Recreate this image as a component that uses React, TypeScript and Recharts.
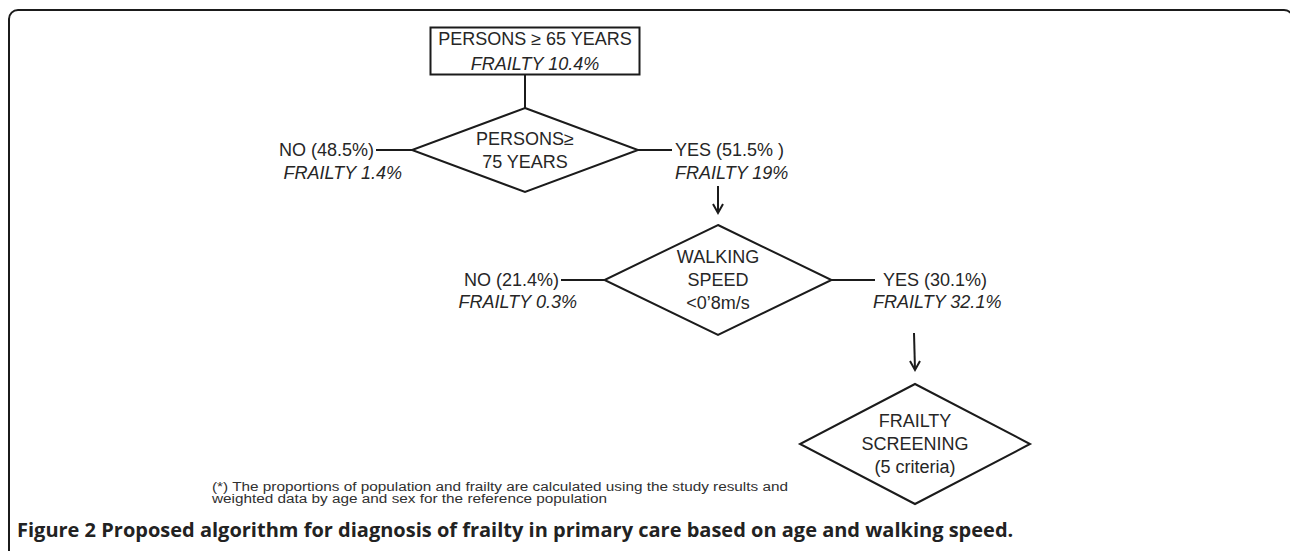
import React from 'react';
import { ScatterChart, Scatter, XAxis, YAxis, ReferenceLine } from 'recharts';

const W = 1290;
const H = 551;

// flowchart nodes (layout units = page pixels)
const nodeKinds = ['box', 'diamond', 'diamond', 'diamond'];
const nodeLines = [
  ['PERSONS ≥ 65 YEARS', 'FRAILTY 10.4%'],
  ['PERSONS≥', '75 YEARS'],
  ['WALKING', 'SPEED', '<0’8m/s'],
  ['FRAILTY', 'SCREENING', '(5 criteria)'],
];
const nodeX = [535, 525, 718, 915];
const nodeY = [51, 150, 280, 444];

// outcome of each decision
const branchText = ['NO (48.5%)', 'YES (51.5% )', 'NO (21.4%)', 'YES (30.1%)'];
const branchFrailty = ['FRAILTY 1.4%', 'FRAILTY 19%', 'FRAILTY 0.3%', 'FRAILTY 32.1%'];
const branchSide = ['left', 'right', 'left', 'right'];
const branchX = [374, 675, 559, 883];
const branchY = [150, 150, 280, 280];
const frailtyX = [402, 675, 577, 873];
const frailtyY = [173, 173, 302, 302];

// connectors: from -> to
const linkFrom = [[525, 74], [412, 150], [638, 150], [718, 186], [604, 280], [831, 280], [914, 333]];
const linkTo = [[525, 108], [376, 150], [672, 150], [718, 213], [561, 280], [875, 280], [915, 370]];
const arrowTips = [[718, 213], [915, 370]];

const footnote = [
  '(*) The proportions of population and frailty are calculated using the study results and',
  'weighted data by age and sex for the reference population',
];
const caption = 'Figure 2 Proposed algorithm for diagnosis of frailty in primary care based on age and walking speed.';

// shape sizes in px (half width, half height)
const SIZES = [
  [104.5, 23.5],
  [113, 42],
  [113.5, 55],
  [115, 60],
];

const INK = '#1b1b1b';
const TEXT = '#262626';
const FONT = '"Liberation Sans", Arial, sans-serif';

const nodes = nodeKinds.map((kind, i) => ({
  x: nodeX[i],
  y: nodeY[i],
  kind,
  lines: nodeLines[i],
  size: SIZES[i],
}));

const labels = [
  ...branchText.map((t, i) => ({ x: branchX[i], y: branchY[i], text: t, side: branchSide[i], italic: false })),
  ...branchFrailty.map((t, i) => ({ x: frailtyX[i], y: frailtyY[i], text: t, side: branchSide[i], italic: true })),
];

const tips = arrowTips.map(([x, y]) => ({ x, y }));

function NodeShape(props: any) {
  const { cx, cy, payload } = props;
  const [hw, hh] = payload.size;
  const lines: string[] = payload.lines;
  const step = payload.kind === 'box' ? 25 : 23;
  const top = cy - ((lines.length - 1) * step) / 2;
  return (
    <g>
      {payload.kind === 'box' ? (
        <rect x={cx - hw} y={cy - hh} width={hw * 2} height={hh * 2} fill="#fff" stroke={INK} strokeWidth={2} />
      ) : (
        <polygon
          points={`${cx},${cy - hh} ${cx + hw},${cy} ${cx},${cy + hh} ${cx - hw},${cy}`}
          fill="#fff"
          stroke={INK}
          strokeWidth={2}
        />
      )}
      {lines.map((ln, j) => (
        <text
          key={j}
          x={cx}
          y={top + j * step}
          textAnchor="middle"
          dominantBaseline="central"
          fontFamily={FONT}
          fontSize={18}
          fill={TEXT}
          fontStyle={payload.kind === 'box' && j === 1 ? 'italic' : 'normal'}
        >
          {ln}
        </text>
      ))}
    </g>
  );
}

function LabelShape(props: any) {
  const { cx, cy, payload } = props;
  return (
    <text
      x={cx}
      y={cy}
      textAnchor={payload.side === 'left' ? 'end' : 'start'}
      dominantBaseline="central"
      fontFamily={FONT}
      fontSize={18}
      fill={TEXT}
      fontStyle={payload.italic ? 'italic' : 'normal'}
    >
      {payload.text}
    </text>
  );
}

function ArrowTip(props: any) {
  const { cx, cy } = props;
  return (
    <path d={`M${cx - 5},${cy - 9} L${cx},${cy} L${cx + 5},${cy - 9}`} fill="none" stroke={INK} strokeWidth={2} />
  );
}

export default function App() {
  return (
    <div style={{ position: 'absolute', left: 0, top: 0, width: W, height: H, overflow: 'hidden', background: '#fff' }}>
      {/* figure frame, right side runs off the page */}
      <div
        style={{
          position: 'absolute',
          left: 8,
          top: 9,
          width: 1286,
          height: 600,
          border: `2px solid ${INK}`,
          borderRadius: 10,
          boxSizing: 'border-box',
        }}
      />
      <div style={{ position: 'absolute', left: 0, top: 0 }}>
        <ScatterChart width={W} height={H} margin={{ top: 0, right: 0, bottom: 0, left: 0 }}>
          <XAxis type="number" dataKey="x" domain={[0, W]} hide />
          <YAxis type="number" dataKey="y" domain={[0, H]} reversed hide />
          {linkFrom.map((f, i) => (
            <ReferenceLine
              key={i}
              segment={[{ x: f[0], y: f[1] }, { x: linkTo[i][0], y: linkTo[i][1] }]}
              stroke={INK}
              strokeWidth={2}
              ifOverflow="visible"
            />
          ))}
          <Scatter data={nodes} shape={(p: any) => <NodeShape {...p} />} isAnimationActive={false} />
          <Scatter data={labels} shape={(p: any) => <LabelShape {...p} />} isAnimationActive={false} />
          <Scatter data={tips} shape={(p: any) => <ArrowTip {...p} />} isAnimationActive={false} />
        </ScatterChart>
      </div>
      {/* footnote + caption */}
      <svg width={W} height={H} style={{ position: 'absolute', left: 0, top: 0, pointerEvents: 'none' }}>
        <text
          x={212}
          y={491}
          fontFamily={FONT}
          fontSize={12}
          fill="#303030"
          textLength={576}
          lengthAdjust="spacingAndGlyphs"
        >
          {footnote[0]}
        </text>
        <text
          x={212}
          y={503}
          fontFamily={FONT}
          fontSize={12}
          fill="#303030"
          textLength={395}
          lengthAdjust="spacingAndGlyphs"
        >
          {footnote[1]}
        </text>
        <text x={17} y={537} fontFamily='"Open Sans", sans-serif' fontWeight={700} fontSize={20} fill="#222">
          {caption}
        </text>
      </svg>
    </div>
  );
}
